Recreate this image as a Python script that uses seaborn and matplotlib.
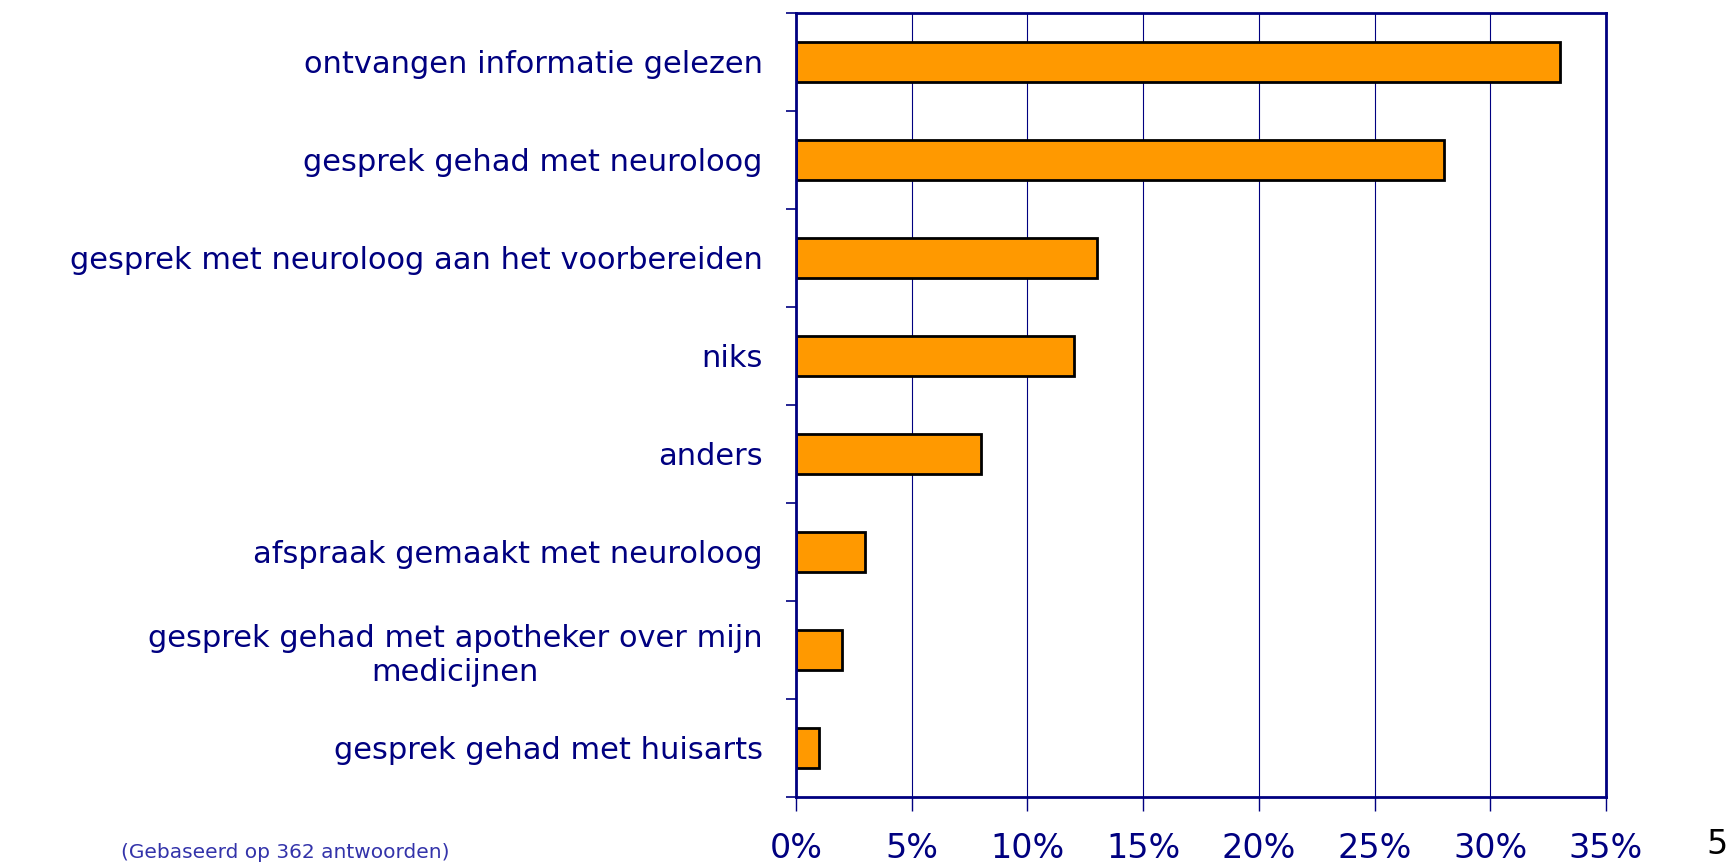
import matplotlib
matplotlib.use("Agg")
import matplotlib.pyplot as plt
import seaborn as sns
import pandas as pd

## Data

categories = [
    "ontvangen informatie gelezen",
    "gesprek gehad met neuroloog",
    "gesprek met neuroloog aan het voorbereiden",
    "niks",
    "anders",
    "afspraak gemaakt met neuroloog",
    "gesprek gehad met apotheker over mijn\nmedicijnen",
    "gesprek gehad met huisarts",
]
percentages = [33, 28, 13, 12, 8, 3, 2, 1]
x_ticks = [0, 5, 10, 15, 20, 25, 30, 35]
x_tick_labels = ["0%", "5%", "10%", "15%", "20%", "25%", "30%", "35%"]

df = pd.DataFrame({"category": categories, "pct": percentages})

NAVY = "#000080"

## Plot

sns.set_style("white")
plt.rcParams["font.family"] = ["DejaVu Sans"]

fig = plt.figure(figsize=(17.33, 8.66), dpi=100)
ax = fig.add_axes([0.4593, 0.0797, 0.4674, 0.9053])

sns.barplot(
    data=df, x="pct", y="category", orient="h",
    color="#FF9900", edgecolor="black", linewidth=2,
    width=0.41, saturation=1, ax=ax,
)

ax.set_xlim(0, 35)
ax.set_ylim(len(categories) - 0.5, -0.5)
ax.set_xticks(x_ticks)
ax.set_xticklabels(x_tick_labels, fontsize=24, color=NAVY)
ax.tick_params(axis="x", bottom=True, length=10, color=NAVY, width=1, pad=15)
ax.grid(axis="x", color=NAVY, linewidth=0.8)
ax.set_axisbelow(True)

# category labels without tick marks, tick marks between categories
ax.set_yticks(range(len(categories)))
ax.set_yticklabels(categories, fontsize=22, color=NAVY, multialignment="center")
ax.tick_params(axis="y", which="major", left=True, length=0, pad=24)
ax.set_yticks([i - 0.5 for i in range(len(categories) + 1)], minor=True)
ax.tick_params(axis="y", which="minor", left=True, length=7, color=NAVY, width=1.2)

ax.set_xlabel("")
ax.set_ylabel("")
for side in ["left", "right", "top", "bottom"]:
    ax.spines[side].set_visible(True)
    ax.spines[side].set_color(NAVY)
    ax.spines[side].set_linewidth(2)

fig.text(0.1645, 0.005, "(Gebaseerd op 362 antwoorden)", fontsize=14.5,
         color="#3333AA", ha="center", va="bottom")
fig.text(0.991, 0.006, "5", fontsize=24, color="black", ha="center", va="bottom")

fig.savefig("out.png", dpi=100)
